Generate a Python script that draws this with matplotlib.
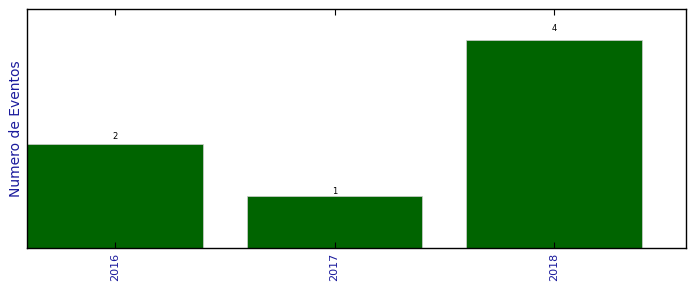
import matplotlib
matplotlib.use("Agg")
import matplotlib.pyplot as plt

years = ["2016", "2017", "2018"]
eventos = [2, 1, 4]

fig = plt.figure(figsize=(6.96, 2.92), dpi=100)
ax = fig.add_axes([0.0388, 0.1507, 0.9468, 0.8185])

pos = range(len(years))
bars = ax.bar(pos, eventos, width=0.8, color="#006400", edgecolor="#d0d0d0", linewidth=0.5)
for p, v in zip(pos, eventos):
    ax.text(p, 1.045 * v - 0.04, str(v), ha="center", va="bottom", fontsize=6)

ax.set_xlim(-0.4, 2.6)
ax.set_ylim(0, 4.6)
ax.set_xticks(list(pos))
ax.set_xticklabels(years, rotation=90, color="#1a1a9c", fontsize=8)
ax.set_yticks([])
ax.set_ylabel("Numero de Eventos", color="#1a1a9c", fontsize=10, labelpad=3)
ax.tick_params(axis="x", direction="in", top=True, length=4)
for s in ax.spines.values():
    s.set_linewidth(1.0)

fig.savefig("out.png", dpi=100)
